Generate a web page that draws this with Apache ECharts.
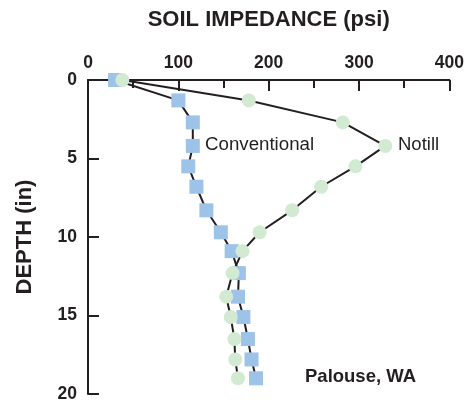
<!DOCTYPE html>
<html>
<head>
<meta charset="utf-8">
<script src="https://cdn.jsdelivr.net/npm/echarts@6/dist/echarts.min.js"></script>
<style>
  html, body { margin: 0; padding: 0; background: #fff; }
  #chart { width: 467px; height: 403px; }
</style>
</head>
<body>
<div id="chart"></div>
<script>
// depth (in) of each sample
const depths = [0, 1.3, 2.7, 4.2, 5.5, 6.8, 8.3, 9.7, 10.9, 12.3, 13.8, 15.1, 16.5, 17.8, 19.0];
// soil impedance (psi)
const conventional = [30, 100, 116, 116, 111, 120, 131, 147, 159, 167, 166, 172, 177, 181, 186];
const notill = [38, 178, 282, 329, 296, 258, 226, 190, 171, 160, 153, 158, 162, 163, 166];

const pairs = (vals) => vals.map((v, i) => [v, depths[i]]);

const font = "Liberation Sans, Arial, sans-serif";
const ink = "#231f20";
const chart = echarts.init(document.getElementById("chart"));

chart.setOption({
  animation: false,
  grid: { left: 88, right: 16, top: 80, bottom: 6 },
  xAxis: {
    type: "value",
    position: "top",
    min: 0,
    max: 400,
    interval: 100,
    name: "SOIL IMPEDANCE (psi)",
    nameLocation: "middle",
    nameGap: 49,
    nameTextStyle: { fontFamily: font, fontWeight: "bold", fontSize: 22, color: ink },
    axisLine: { show: true, lineStyle: { color: ink, width: 2 } },
    axisTick: { show: true, inside: true, length: 11, lineStyle: { color: ink, width: 2 } },
    minorTick: { show: true, splitNumber: 2, length: 8, lineStyle: { color: ink, width: 2 } },
    axisLabel: { fontFamily: font, fontWeight: "bold", fontSize: 17.5, color: ink, margin: 8 },
    splitLine: { show: false }
  },
  yAxis: {
    type: "value",
    inverse: true,
    min: 0,
    max: 20,
    interval: 5,
    name: "DEPTH (in)",
    nameLocation: "middle",
    nameGap: 52,
    nameRotate: 90,
    nameTextStyle: { fontFamily: font, fontWeight: "bold", fontSize: 22, color: ink },
    axisLine: { show: true, lineStyle: { color: ink, width: 2 } },
    axisTick: { show: true, inside: true, length: 11, lineStyle: { color: ink, width: 2 } },
    axisLabel: { fontFamily: font, fontWeight: "bold", fontSize: 17.5, color: ink, margin: 11 },
    splitLine: { show: false }
  },
  series: [
    {
      type: "line",
      data: pairs(conventional),
      symbol: "none",
      z: 2,
      lineStyle: { color: ink, width: 2 }
    },
    {
      type: "line",
      data: pairs(notill),
      symbol: "none",
      z: 2,
      lineStyle: { color: ink, width: 2 }
    },
    {
      type: "scatter",
      data: pairs(conventional),
      symbol: "rect",
      symbolSize: 14,
      z: 3,
      itemStyle: { color: "#9dc3e8", opacity: 1 }
    },
    {
      type: "scatter",
      data: pairs(notill),
      symbol: "circle",
      symbolSize: 14,
      z: 4,
      itemStyle: { color: "#d2e9d2", opacity: 1 }
    }
  ],
  graphic: [
    { type: "text", left: 205, top: 135, style: { text: "Conventional", font: "18.7px " + font, fill: ink } },
    { type: "text", left: 398, top: 135, style: { text: "Notill", font: "18.5px " + font, fill: ink } },
    { type: "text", left: 305, top: 367, style: { text: "Palouse, WA", font: "bold 18.5px " + font, fill: ink } }
  ]
});
</script>
</body>
</html>
